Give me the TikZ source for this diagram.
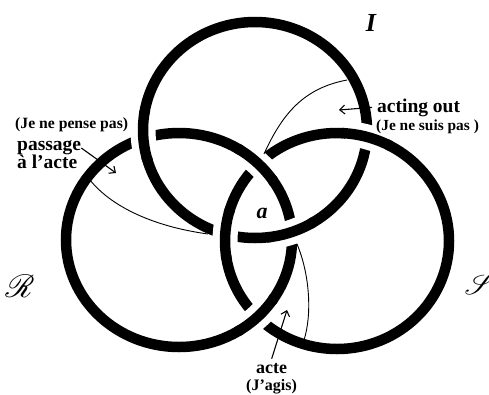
\documentclass[tikz,border=0pt]{standalone}
\usepackage{graphicx}
\usepackage{fontspec}
\setmainfont{Liberation Serif}
\usepackage{mathrsfs}
\usetikzlibrary{arrows.meta}
\begin{document}
\begin{tikzpicture}[x=1pt,y=-1pt,
  ring/.style={line width=10.5pt},
  halo/.style={white,line width=25pt},
  thinline/.style={line width=0.9pt},
  lab/.style={inner sep=0pt,anchor=base west,font=\bfseries},
  pointer/.style={line width=1.1pt,-{Straight Barb[length=5pt,width=9pt]}}
]
\useasboundingbox (0,0) rectangle (489,394);
\fill[white] (0,0) rectangle (489,394);
\coordinate (cI) at (255,130);
\coordinate (cR) at (179,240);
\coordinate (cS) at (337,241);
% rings
\draw[ring] (cI) ellipse [x radius=112pt, y radius=108pt];
\draw[ring] (cR) ellipse [x radius=113pt, y radius=107pt];
\draw[ring] (cS) ellipse [x radius=112pt, y radius=108pt];
% I over R
\begin{scope}
\clip (144,136) circle [radius=22pt];
\draw[halo] (cI) ellipse [x radius=112pt, y radius=108pt];
\end{scope}
\begin{scope}
\clip (144,136) circle [radius=26pt];
\draw[ring] (cI) ellipse [x radius=112pt, y radius=108pt];
\end{scope}
\begin{scope}
\clip (291,232) circle [radius=22pt];
\draw[halo] (cI) ellipse [x radius=112pt, y radius=108pt];
\end{scope}
\begin{scope}
\clip (291,232) circle [radius=26pt];
\draw[ring] (cI) ellipse [x radius=112pt, y radius=108pt];
\end{scope}
% S over I
\begin{scope}
\clip (225,234) circle [radius=22pt];
\draw[halo] (cS) ellipse [x radius=112pt, y radius=108pt];
\end{scope}
\begin{scope}
\clip (225,234) circle [radius=26pt];
\draw[ring] (cS) ellipse [x radius=112pt, y radius=108pt];
\end{scope}
\begin{scope}
\clip (367,137) circle [radius=22pt];
\draw[halo] (cS) ellipse [x radius=112pt, y radius=108pt];
\end{scope}
\begin{scope}
\clip (367,137) circle [radius=26pt];
\draw[ring] (cS) ellipse [x radius=112pt, y radius=108pt];
\end{scope}
% R over S
\begin{scope}
\clip (258,163) circle [radius=22pt];
\draw[halo] (cR) ellipse [x radius=113pt, y radius=107pt];
\end{scope}
\begin{scope}
\clip (258,163) circle [radius=26pt];
\draw[ring] (cR) ellipse [x radius=113pt, y radius=107pt];
\end{scope}
\begin{scope}
\clip (258,317) circle [radius=22pt];
\draw[halo] (cR) ellipse [x radius=113pt, y radius=107pt];
\end{scope}
\begin{scope}
\clip (258,317) circle [radius=26pt];
\draw[ring] (cR) ellipse [x radius=113pt, y radius=107pt];
\end{scope}
% ring labels
\node[inner sep=0pt] (lI) at (371,23) {\fontsize{26}{26}\selectfont\bfseries\itshape I};
\node[inner sep=0pt] (lR) at (20,286) {\scalebox{3.2}{$\mathscr{R}$}};
\node[inner sep=0pt] (lS) at (480,284) {\scalebox{2.9}{$\mathscr{S}$}};
\node[inner sep=0pt] (la) at (262,213) {\fontsize{22}{22}\selectfont\bfseries\itshape a};
% texts
\node[lab] (tPassA) at (15,128) {\fontsize{15.7}{16}\selectfont (Je ne pense pas)};
\node[lab] (tPassB) at (17,150) {\fontsize{19.5}{19}\selectfont passage};
\node[lab] (tPassC) at (17,168) {\fontsize{19.5}{19}\selectfont à l'acte};
\node[lab] (tActA) at (377,112) {\fontsize{19.5}{20}\selectfont acting out};
\node[lab] (tActB) at (376,130) {\fontsize{15.4}{16}\selectfont (Je ne suis pas )};
\node[lab] (tActeA) at (256,373) {\fontsize{18}{18}\selectfont acte};
\node[lab] (tActeB) at (246,390) {\fontsize{16}{16}\selectfont (J'agis)};
% points on the rings
\coordinate (pPass1) at (90,180);
\coordinate (pPass2) at (208,234);
\coordinate (pAct1) at (264,154);
\coordinate (pAct2) at (347,80);
\coordinate (pActe1) at (297,244);
\coordinate (pActe2) at (304,340);
\coordinate (tipPass) at (116,173);
\coordinate (tipAct) at (339,110);
\coordinate (tipActe) at (287,310);
% thin curves
\draw[thinline] (pPass1) .. controls (110,205) and (150,226) .. (pPass2);
\draw[thinline] (pAct1) .. controls (283,112) and (305,88) .. (pAct2);
\draw[thinline] (pActe1) .. controls (310,275) and (312,315) .. (pActe2);
% pointers
\draw[pointer] ([yshift=2pt]tPassB.base east) -- (tipPass);
\draw[pointer] ([xshift=-5pt]tActA.west) -- (tipAct);
\draw[pointer] ([yshift=4pt]tActeA.north) -- (tipActe);
\end{tikzpicture}
\end{document}
